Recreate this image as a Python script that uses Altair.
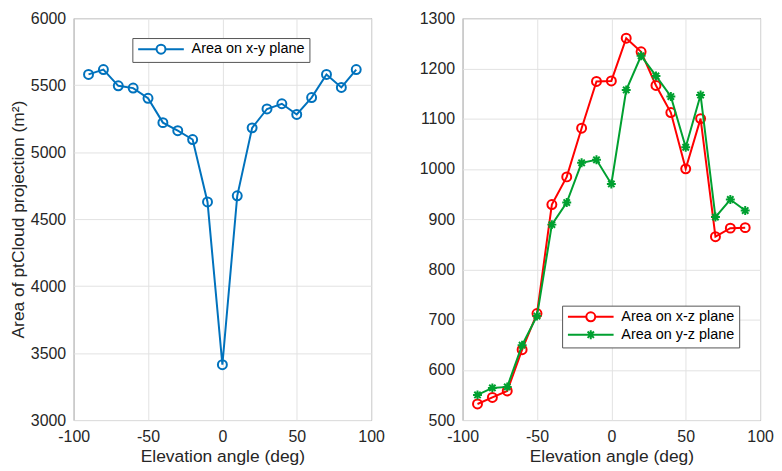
import altair as alt
import pandas as pd

# ---- data ----
angles = [-90, -80, -70, -60, -50, -40, -30, -20, -10, 0, 10, 20, 30, 40, 50, 60, 70, 80, 90]
area_xy = [5580, 5616, 5495, 5478, 5402, 5220, 5160, 5094, 4628, 3413, 4674, 5181, 5322, 5361, 5281, 5407, 5580, 5483, 5616]
area_xz = [532, 545, 558, 640, 712, 929, 984, 1081, 1174, 1175, 1260, 1233, 1166, 1112, 1000, 1100, 865, 882, 883]
area_yz = [550, 564, 566, 649, 707, 889, 933, 1012, 1018, 970, 1157, 1225, 1185, 1144, 1043, 1147, 904, 939, 917]

x_ticks = [-100, -50, 0, 50, 100]
y_ticks_left = [3000, 3500, 4000, 4500, 5000, 5500, 6000]
y_ticks_right = [500, 600, 700, 800, 900, 1000, 1100, 1200, 1300]

name_xy = "Area on x-y plane"
name_xz = "Area on x-z plane"
name_yz = "Area on y-z plane"

BLUE = "#0072BD"
RED = "#FF0000"
GREEN = "#00A030"

W, H = 299, 404
FONT = "Liberation Sans"

df_xy = pd.DataFrame({"angle": angles, "value": area_xy, "series": name_xy})
df_xz = pd.DataFrame({"angle": angles, "value": area_xz, "series": name_xz})
df_yz = pd.DataFrame({"angle": angles, "value": area_yz, "series": name_yz})

ASTERISK = "M-1,0L1,0M0,-1L0,1M-0.71,-0.71L0.71,0.71M-0.71,0.71L0.71,-0.71"
LEG_CIRCLE = "M-1.2,0L2.9,0M4.9,0L9,0M4.9,0A1,1,0,1,1,2.9,0A1,1,0,1,1,4.9,0"
LEG_AST = "M-1.2,0L9,0M3.9,-1L3.9,1M2.9,0L4.9,0M3.19,-0.71L4.61,0.71M3.19,0.71L4.61,-0.71"

NUM = "'' + datum.value"
x_axis = alt.Axis(values=x_ticks, labelExpr=NUM, title="Elevation angle (deg)")
x_scale = alt.Scale(domain=[-100, 100], nice=False)


def legend(x, y):
    return alt.Legend(
        title=None, orient="none", legendX=x, legendY=y,
        fillColor="white", strokeColor="#555555", padding=4, cornerRadius=0,
        labelFont=FONT, labelFontSize=14.5, labelColor="#000000", labelOffset=41,
        symbolSize=81, symbolStrokeWidth=2, rowPadding=0,
    )


def series_layers(df, color, shape):
    line = alt.Chart(df).mark_line(color=color, strokeWidth=2).encode(
        x=alt.X("angle:Q"), y=alt.Y("value:Q"))
    pts = alt.Chart(df).mark_point(color=color, filled=False, shape=shape, size=81,
                                   strokeWidth=2, opacity=1).encode(
        x=alt.X("angle:Q"), y=alt.Y("value:Q"))
    return [line, pts]


def legend_layer(df, names, colors, shapes, lx, ly):
    lg = legend(lx, ly)
    return alt.Chart(df).transform_filter("datum.angle > 1000").mark_point(
        filled=False, strokeWidth=2, opacity=1, size=81).encode(
        x=alt.X("angle:Q"), y=alt.Y("value:Q"),
        color=alt.Color("series:N", scale=alt.Scale(domain=names, range=colors), legend=lg),
        shape=alt.Shape("series:N", scale=alt.Scale(domain=names, range=shapes), legend=lg),
    )


# left panel
base_left = alt.Chart(df_xy).mark_line(color=BLUE, strokeWidth=2).encode(
    x=alt.X("angle:Q", scale=x_scale, axis=x_axis),
    y=alt.Y("value:Q", scale=alt.Scale(domain=[3000, 6000], nice=False),
            axis=alt.Axis(values=y_ticks_left, labelExpr=NUM,
                          title="Area of ptCloud projection (m²)")),
)
left = alt.layer(
    base_left,
    *series_layers(df_xy, BLUE, "circle")[1:],
    legend_layer(df_xy, [name_xy], [BLUE], [LEG_CIRCLE], 59, 20),
).properties(width=W, height=H)

# right panel
base_right = alt.Chart(df_xz).mark_line(color=RED, strokeWidth=2).encode(
    x=alt.X("angle:Q", scale=x_scale, axis=x_axis),
    y=alt.Y("value:Q", scale=alt.Scale(domain=[500, 1300], nice=False),
            axis=alt.Axis(values=y_ticks_right, labelExpr=NUM, title=None)),
)
right = alt.layer(
    base_right,
    *series_layers(df_xz, RED, "circle")[1:],
    *series_layers(df_yz, GREEN, ASTERISK),
    legend_layer(pd.concat([df_xz, df_yz]), [name_xz, name_yz], [RED, GREEN],
                 [LEG_CIRCLE, LEG_AST], 100, 289),
).properties(width=W, height=H)

chart = alt.hconcat(left, right, spacing=92, bounds="flush").resolve_scale(
    x="independent", y="independent", color="independent", shape="independent"
).resolve_legend(color="independent", shape="independent").properties(
    padding=0, background="white"
).configure_view(
    stroke="#707070", strokeWidth=1
).configure_axis(
    labelFont=FONT, labelFontSize=16, labelColor="#262626", labelFlush=False,
    titleFont=FONT, titleFontSize=17.5, titleFontWeight="normal", titleColor="#262626",
    grid=True, gridColor="#e2e2e2", gridWidth=1,
    domain=False, ticks=False, labelPadding=8,
).configure_axisY(titlePadding=3).configure_axisX(labelPadding=9, titlePadding=3)

chart.save("out.html", embed_options={"renderer": "svg", "actions": False})
